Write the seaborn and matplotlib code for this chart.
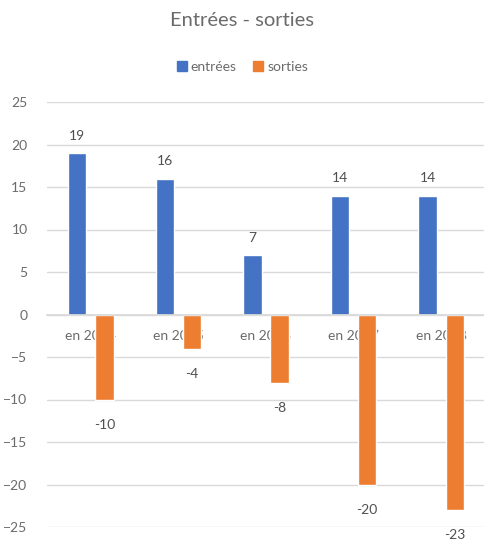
import matplotlib
matplotlib.use("Agg")
import matplotlib.pyplot as plt
import seaborn as sns
import pandas as pd

categories = ["en 2014", "en 2015", "en 2016", "en 2017", "en 2018"]
entrees = [19, 16, 7, 14, 14]
sorties = [-10, -4, -8, -20, -23]
series_names = ["entrées", "sorties"]
colors = ["#4472C4", "#ED7D31"]
y_ticks = [25, 20, 15, 10, 5, 0, -5, -10, -15, -20, -25]

sns.set_theme(style="white")
plt.rcParams["font.family"] = ["Lato", "DejaVu Sans"]

df = pd.DataFrame({
    "annee": categories * 2,
    "valeur": entrees + sorties,
    "serie": [series_names[0]] * len(categories) + [series_names[1]] * len(categories),
})

fig = plt.figure(figsize=(4.85, 5.4), dpi=100)
ax = fig.add_axes([47 / 485, 13 / 540, 438 / 485, 425 / 540])

sns.barplot(data=df, x="annee", y="valeur", hue="serie", palette=colors,
            width=0.62, gap=0.32, ax=ax, legend=False, saturation=1)

ax.set_ylim(-25, 25)
ax.set_xlim(-0.5, 4.5)
ax.set_yticks(y_ticks)
ax.set_xlabel("")
ax.set_ylabel("")
ax.grid(axis="y", color="#d9d9d9", linewidth=1)
ax.set_axisbelow(True)
for s in ["top", "right", "left"]:
    ax.spines[s].set_visible(False)
ax.spines["bottom"].set_position(("data", 0))
ax.spines["bottom"].set_color("#d9d9d9")
ax.tick_params(axis="x", length=0, pad=11, labelsize=10, labelcolor="#6b6b6b")
ax.tick_params(axis="y", length=0, pad=14, labelsize=10, labelcolor="#6b6b6b")

ax.bar_label(ax.containers[0], padding=8, fontsize=10, color="#505050")
ax.bar_label(ax.containers[1], padding=14, fontsize=10, color="#505050")

fig.text(0.5, 1 - 20 / 540, "Entrées - sorties", ha="center", va="center",
         fontsize=14.5, color="#6b6b6b")

handles = [plt.Rectangle((0, 0), 1, 1, color=c) for c in colors]
fig.legend(handles, series_names, loc="center", bbox_to_anchor=(0.5, 1 - 67 / 540),
           ncol=2, frameon=False, fontsize=10, handlelength=0.7, handleheight=0.7,
           handletextpad=0.3, columnspacing=1.2, labelcolor="#6b6b6b")

fig.savefig("out.png", dpi=100)
